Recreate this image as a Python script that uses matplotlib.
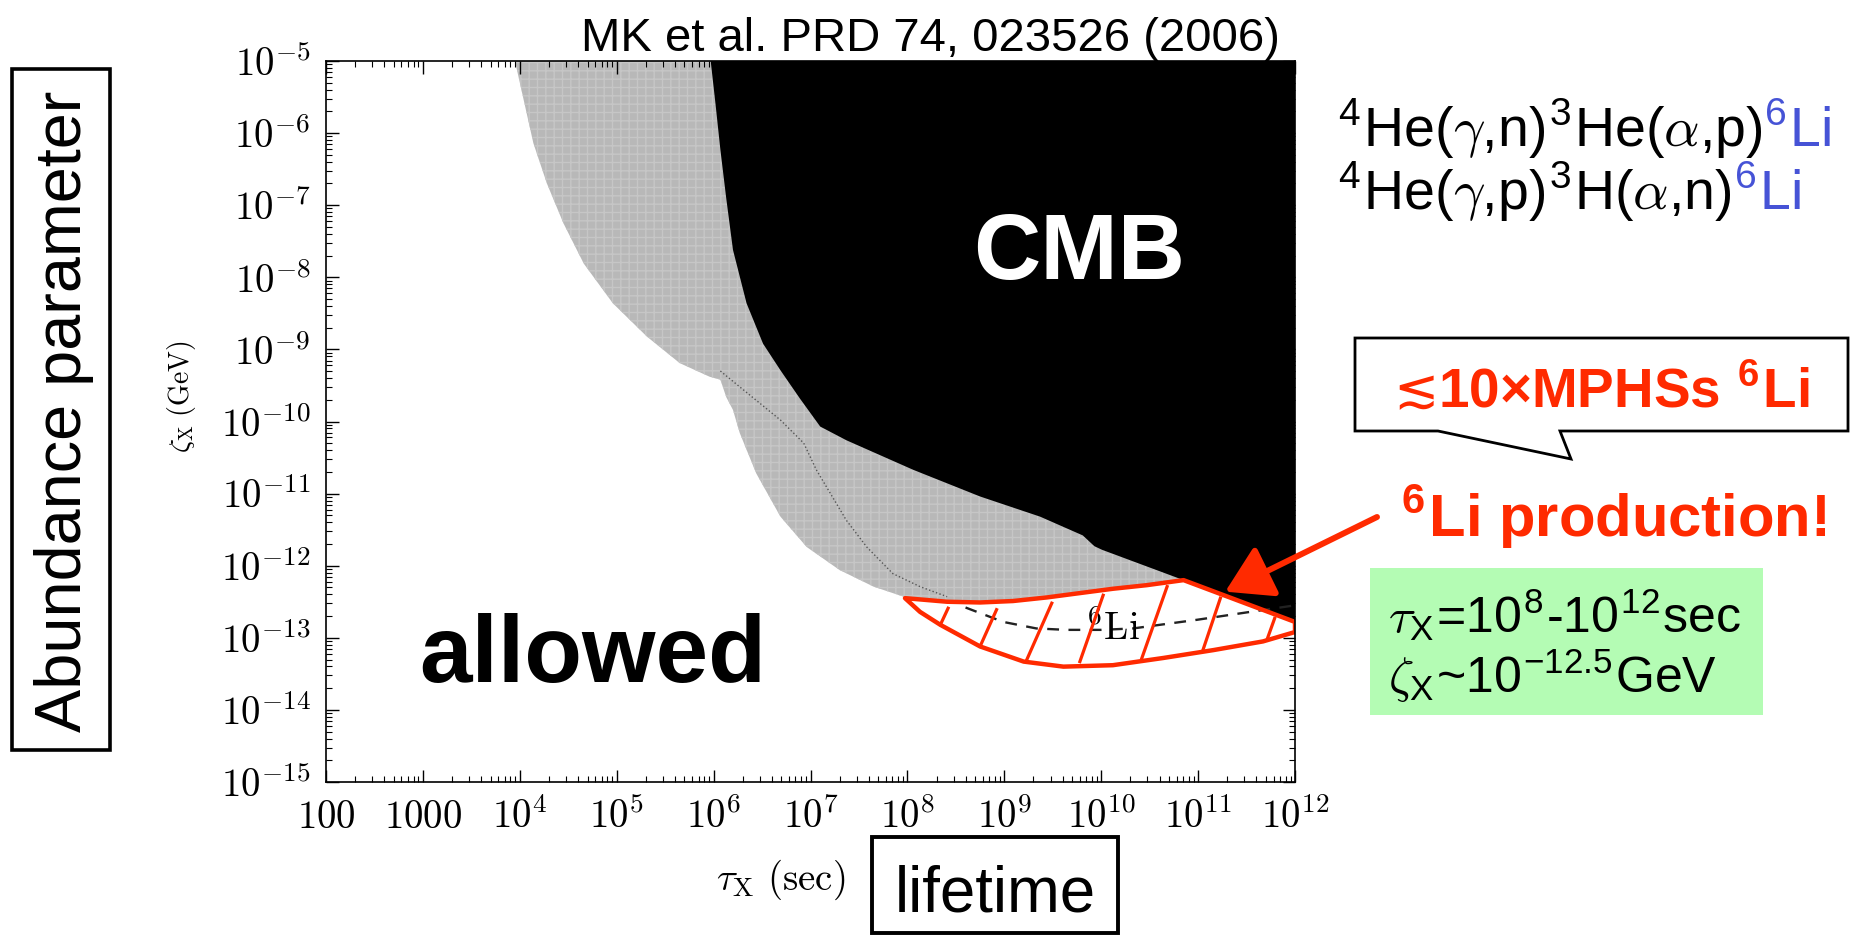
import matplotlib
matplotlib.use('Agg')
import matplotlib.pyplot as plt
import numpy as np
from matplotlib import font_manager as fm
from matplotlib.patches import Rectangle, Polygon
from matplotlib.ticker import LogLocator, NullFormatter

plt.rcParams['mathtext.fontset'] = 'cm'
plt.rcParams['font.family'] = ['Liberation Sans', 'DejaVu Sans']

names = {f.name for f in fm.fontManager.ttflist}
if 'Liberation Sans Narrow' in names:
    narrow, narrow_scale = 'Liberation Sans Narrow', 1.0
else:
    narrow, narrow_scale = 'Liberation Sans', 0.88

RED = '#ff2a00'
BLUE = '#4653d6'

# boundaries (log10 of tau_X, log10 of zeta_X)
gray_edge_lx = [3.95, 4.04, 4.14, 4.28, 4.45, 4.66, 4.96, 5.31, 5.65, 5.96, 6.07,
                6.13, 6.20, 6.27, 6.44, 6.69, 6.96, 7.30, 7.65, 7.96]
gray_edge_ly = [-5.0, -5.54, -6.14, -6.70, -7.25, -7.81, -8.36, -8.82, -9.19, -9.38, -9.42,
                -9.66, -9.84, -10.16, -10.72, -11.32, -11.74, -12.06, -12.29, -12.43]

cmb_edge_lx = [5.97, 6.02, 6.07, 6.13, 6.20, 6.34, 6.51, 6.69, 6.89, 7.10, 7.37,
               8.06, 8.75, 9.37, 9.81, 9.93, 10.01, 10.85, 12.0]
cmb_edge_ly = [-5.0, -5.6, -6.23, -6.9, -7.62, -8.36, -8.92, -9.29, -9.68, -10.07, -10.26,
               -10.67, -11.04, -11.32, -11.58, -11.73, -11.78, -12.20, -12.78]

li6_top_lx = [7.975, 8.41, 8.75, 9.09, 9.44, 9.78, 10.12, 10.47, 10.85, 12.0]
li6_top_ly = [-12.45, -12.50, -12.51, -12.49, -12.44, -12.38, -12.32, -12.27, -12.20, -12.78]
li6_bot_lx = [7.975, 8.13, 8.34, 8.75, 9.20, 9.61, 10.12, 10.64, 11.16, 11.67, 12.0]
li6_bot_ly = [-12.45, -12.64, -12.82, -13.12, -13.33, -13.40, -13.38, -13.28, -13.17, -13.05, -12.92]

hatch_lo_lx = [8.34, 8.75, 9.23, 9.78, 10.42, 11.05, 11.71]
hatch_lo_ly = [-12.82, -13.12, -13.31, -13.33, -13.28, -13.17, -13.03]
hatch_hi_lx = [8.42, 8.92, 9.49, 10.02, 10.68, 11.23, 11.79]
hatch_hi_ly = [-12.59, -12.61, -12.52, -12.41, -12.29, -12.45, -12.73]

dot_lx = [6.07, 6.27, 6.69, 6.93, 7.06, 7.37, 7.58, 7.85, 8.13, 8.41]
dot_ly = [-9.30, -9.52, -9.98, -10.30, -10.67, -11.37, -11.74, -12.11, -12.29, -12.43]

dash_lx = [8.60, 8.99, 9.33, 9.64, 10.0, 10.33, 10.99, 11.54, 12.0]
dash_ly = [-12.58, -12.78, -12.87, -12.89, -12.89, -12.87, -12.75, -12.64, -12.55]

xtick_exp = list(range(2, 13))
xtick_labels = [r'$100$', r'$1000$'] + [r'$10^{%d}$' % e for e in range(4, 13)]
ytick_exp = list(range(-15, -4))
ytick_labels = [r'$10^{%d}$' % e for e in ytick_exp]

W, H = 1863, 935
fig = plt.figure(figsize=(W / 100, H / 100), dpi=100)
fx = lambda px: px / W
fy = lambda py: 1 - py / H

ax = fig.add_axes([fx(326), fy(782), (1295 - 326) / W, (782 - 61) / H])
ax.set_xscale('log')
ax.set_yscale('log')
ax.set_xlim(1e2, 1e12)
ax.set_ylim(1e-15, 1e-5)

p = lambda a: 10 ** np.asarray(a, dtype=float)

# gray excluded region
gx = gray_edge_lx + li6_top_lx[1:] + [12.0]
gy = gray_edge_ly + li6_top_ly[1:] + [-5.0]
ax.fill(p(gx), p(gy), color='#b8b8b8', lw=0, zorder=1)
ax.fill(p(gx), p(gy), facecolor='none', edgecolor='#c6c6c6', hatch='++', lw=0, zorder=1.1)

# CMB region
bx = cmb_edge_lx + [12.0]
by = cmb_edge_ly + [-5.0]
ax.fill(p(bx), p(by), color='black', lw=0, zorder=2)

ax.plot(p(dot_lx), p(dot_ly), color='#555555', ls=':', lw=1.0, zorder=2.5)

# 6Li region
rx = li6_top_lx + li6_bot_lx[::-1]
ry = li6_top_ly + li6_bot_ly[::-1]
ax.fill(p(rx), p(ry), facecolor='white', edgecolor='none', zorder=3)
ax.plot(p(dash_lx), p(dash_ly), color='#222222', ls=(0, (5, 4)), lw=1.7, zorder=3.2)
for x0, y0, x1, y1 in zip(hatch_lo_lx, hatch_lo_ly, hatch_hi_lx, hatch_hi_ly):
    ax.plot(p([x0, x1]), p([y0, y1]), color=RED, lw=2.3, zorder=3.5)
ax.fill(p(rx), p(ry), facecolor='none', edgecolor=RED, lw=3.2, zorder=3.6, joinstyle='round')
ax.text(10 ** 10.12, 10 ** -12.88, r'$^{6}\mathrm{Li}$', fontsize=28, ha='center',
        va='center', zorder=3.4)

ax.text(10 ** 9.77, 10 ** -8.02, 'CMB', color='white', fontsize=67, fontweight='bold',
        ha='center', va='baseline', zorder=4)
ax.text(10 ** 4.755, 10 ** -13.61, 'allowed', color='black', fontsize=68, fontweight='bold',
        ha='center', va='baseline', zorder=4)

# axes styling
ax.set_xticks(p(xtick_exp))
ax.set_xticklabels(xtick_labels, fontsize=28)
ax.set_yticks(p(ytick_exp))
ax.set_yticklabels(ytick_labels, fontsize=28)
ax.xaxis.set_minor_locator(LogLocator(base=10, subs=np.arange(2, 10), numticks=100))
ax.yaxis.set_minor_locator(LogLocator(base=10, subs=np.arange(2, 10), numticks=100))
ax.xaxis.set_minor_formatter(NullFormatter())
ax.yaxis.set_minor_formatter(NullFormatter())
ax.tick_params(which='both', direction='in', top=True, right=True, zorder=5)
ax.tick_params(which='major', length=9, width=1.0)
ax.tick_params(which='minor', length=4.5, width=0.8)
ax.tick_params(axis='x', which='major', pad=33)
ax.tick_params(axis='y', which='major', pad=11)
for lbl in ax.get_xticklabels():
    lbl.set_va('baseline')
for s in ax.spines.values():
    s.set_linewidth(1.2)
    s.set_zorder(6)

fig.text(fx(781), fy(890), r'$\tau_{\rm X}\ \rm (sec)$', fontsize=28, ha='center', va='baseline')
fig.text(fx(182), fy(397), r'$\zeta_{\rm X}\ \rm (GeV)$', fontsize=20, ha='center', va='center',
         rotation=90)

# title
fig.text(fx(930), fy(51), 'MK et al. PRD 74, 023526 (2006)', fontsize=34, ha='center', va='baseline')

# boxed axis names
fig.patches.append(Rectangle((fx(12), fy(750)), (110 - 12) / W, (750 - 69) / H, transform=fig.transFigure,
                             facecolor='none', edgecolor='black', lw=2.6))
fig.text(fx(64), fy(411), 'Abundance parameter', family=narrow, fontsize=53 * narrow_scale,
         rotation=90, ha='center', va='center')
fig.patches.append(Rectangle((fx(872), fy(933)), (1118 - 872) / W, (933 - 837) / H, transform=fig.transFigure,
                             facecolor='none', edgecolor='black', lw=2.8))
fig.text(fx(995), fy(912), 'lifetime', family=narrow, fontsize=52 * narrow_scale,
         ha='center', va='baseline')

fig.canvas.draw()
renderer = fig.canvas.get_renderer()


def two_color(x, y, s1, s2, size, c2):
    t = fig.text(x, y, s1, fontsize=size, ha='left', va='baseline')
    bb = t.get_window_extent(renderer)
    fig.text(bb.x1 / fig.bbox.width, y, s2, fontsize=size, ha='left', va='baseline', color=c2)


two_color(fx(1336), fy(147), r'$^{\mathregular{4}}$He($\gamma$,n)$^{\mathregular{3}}$He($\alpha$,p)',
          r'$^{\mathregular{6}}$Li', 40, BLUE)
two_color(fx(1336), fy(210), r'$^{\mathregular{4}}$He($\gamma$,p)$^{\mathregular{3}}$H($\alpha$,n)',
          r'$^{\mathregular{6}}$Li', 40, BLUE)

# speech bubble
bub = [(1355, 338), (1848, 338), (1848, 431), (1560, 431), (1571, 459), (1438, 431), (1355, 431)]
fig.patches.append(Polygon([(fx(a), fy(b)) for a, b in bub], closed=True, transform=fig.transFigure,
                           facecolor='white', edgecolor='black', lw=2.0, joinstyle='miter'))
t_le = fig.text(fx(1393), fy(407), '≲', fontsize=39, family='DejaVu Sans', color=RED,
                ha='left', va='baseline')
bb = t_le.get_window_extent(renderer)
fig.text(bb.x1 / W, fy(407), r'10×MPHSs $^{\mathregular{6}}$Li', fontsize=39.5, fontweight='bold',
         color=RED, ha='left', va='baseline')

fig.text(fx(1399), fy(537), r'$^{\mathregular{6}}$Li production!', fontsize=43, fontweight='bold',
         color=RED, ha='left', va='baseline')

ax.annotate('', xy=(10 ** 11.28, 10 ** -12.36), xycoords='data',
            xytext=(fx(1377), fy(517)), textcoords='figure fraction',
            arrowprops=dict(arrowstyle='-|>,head_length=2.8,head_width=1.7', color=RED, lw=4.3,
                            shrinkA=0, shrinkB=0), annotation_clip=False, zorder=7)

# green box
fig.patches.append(Rectangle((fx(1370), fy(715)), (1763 - 1370) / W, (715 - 568) / H,
                             transform=fig.transFigure, facecolor='#b4fcb4', edgecolor='none'))
fig.text(fx(1388), fy(632), r'$\tau_{\mathregular{X}}$=10$^{\mathregular{8}}$-10$^{\mathregular{12}}$sec',
         fontsize=36, ha='left', va='baseline')
fig.text(fx(1388), fy(693), r'$\zeta_{\mathregular{X}}$~10$^{\mathregular{-12.5}}$GeV',
         fontsize=36, ha='left', va='baseline')

fig.savefig('out.png', dpi=100)
